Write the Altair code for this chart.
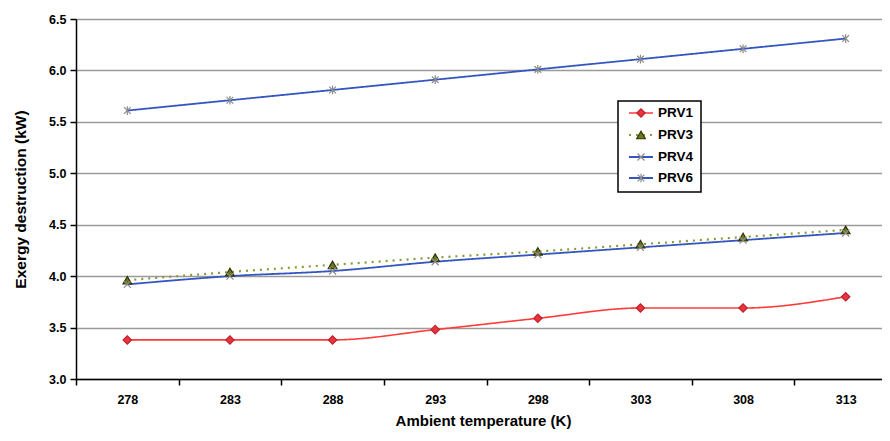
import altair as alt
import pandas as pd

# ---- data ----
temps = [278, 283, 288, 293, 298, 303, 308, 313]
prv1 = [3.38, 3.38, 3.38, 3.48, 3.59, 3.69, 3.69, 3.80]
prv3 = [3.96, 4.04, 4.11, 4.18, 4.24, 4.31, 4.38, 4.45]
prv4 = [3.92, 4.00, 4.05, 4.14, 4.21, 4.28, 4.35, 4.42]
prv6 = [5.61, 5.71, 5.81, 5.91, 6.01, 6.11, 6.21, 6.31]
series_names = ["PRV1", "PRV3", "PRV4", "PRV6"]
y_ticks = [3.0, 3.5, 4.0, 4.5, 5.0, 5.5, 6.0, 6.5]

rows = []
for name, vals in zip(series_names, [prv1, prv3, prv4, prv6]):
    for t, v in zip(temps, vals):
        rows.append({"temp": t, "value": v, "series": name})
df = pd.DataFrame(rows)
legend_df = pd.DataFrame({"series": series_names})

FONT = "Liberation Sans"
XMARK = "M-1,-1L1,1M-1,1L1,-1"
STAR = "M-1,-1L1,1M-1,1L1,-1M0,-1.3L0,1.3"

styles = {
    "PRV1": dict(line="#ff3b3b", dash=[1, 0], width=1.6, shape="diamond",
                 fill="#e8343c", stroke="#c0202a", size=70, filled=True),
    "PRV3": dict(line="#8a9a35", dash=[2, 5], width=2.2, shape="triangle-up",
                 fill="#6b7a22", stroke="#333300", size=75, filled=True),
    "PRV4": dict(line="#3556c0", dash=[1, 0], width=1.8, shape=XMARK,
                 fill="none", stroke="#8a8a8a", size=50, filled=False),
    "PRV6": dict(line="#3556c0", dash=[1, 0], width=1.8, shape=STAR,
                 fill="none", stroke="#8a8a8a", size=45, filled=False),
}

x_enc = alt.X(
    "temp:O",
    scale=alt.Scale(type="band", paddingInner=0, paddingOuter=0),
    axis=alt.Axis(
        title="Ambient temperature (K)", labelAngle=0, grid=False,
        tickBand="extent", tickSize=6, tickColor="black", tickWidth=1.5,
        domainColor="black", domainWidth=1.5,
        labelFont=FONT, labelFontSize=12.5, labelFontWeight="bold",
        labelColor="black", labelPadding=8,
        titleFont=FONT, titleFontSize=15, titleFontWeight="bold",
        titleColor="black", titlePadding=8, titleX=407,
    ),
)
y_enc = alt.Y(
    "value:Q",
    scale=alt.Scale(domain=[3.0, 6.5], nice=False, zero=False),
    axis=alt.Axis(
        title="Exergy destruction (kW)", values=y_ticks, format=".1f",
        grid=True, gridColor="#9a9a9a", gridWidth=1.5,
        tickSize=6, tickColor="black", tickWidth=1.5,
        domainColor="black", domainWidth=1.5,
        labelFont=FONT, labelFontSize=12.5, labelFontWeight="bold",
        labelColor="black", labelPadding=4,
        titleFont=FONT, titleFontSize=15.5, titleFontWeight="bold",
        titleColor="black", titlePadding=20,
    ),
)

layers = []
for name in series_names:
    st = styles[name]
    base = alt.Chart(df).transform_filter(alt.datum.series == name)
    layers.append(
        base.mark_line(color=st["line"], strokeDash=st["dash"],
                       strokeWidth=st["width"], interpolate="monotone")
        .encode(x=x_enc, y=y_enc)
    )
for name in series_names:
    st = styles[name]
    base = alt.Chart(df).transform_filter(alt.datum.series == name)
    layers.append(
        base.mark_point(shape=st["shape"], filled=st["filled"],
                        fill=st["fill"], stroke=st["stroke"],
                        strokeWidth=1.2, size=st["size"], opacity=1)
        .encode(x=x_enc, y=y_enc)
    )

# ---- legend box (Excel style) ----
legend_box = alt.Chart(legend_df).transform_filter(
    alt.datum.series == "PRV1"
).mark_rect(fill="white", stroke="black", strokeWidth=1.5).encode(
    x=alt.value(542), x2=alt.value(625), y=alt.value(82), y2=alt.value(173)
)
layers.append(legend_box)
legend_y = [94, 116, 138, 159]
for name, ly in zip(series_names, legend_y):
    st = styles[name]
    lb = alt.Chart(legend_df).transform_filter(alt.datum.series == name)
    layers.append(
        lb.mark_rule(color=st["line"], strokeDash=st["dash"],
                     strokeWidth=st["width"])
        .encode(x=alt.value(553), x2=alt.value(577), y=alt.value(ly))
    )
    layers.append(
        lb.mark_point(shape=st["shape"], filled=st["filled"],
                      fill=st["fill"], stroke=st["stroke"], strokeWidth=1.2,
                      size=st["size"], opacity=1)
        .encode(x=alt.value(565), y=alt.value(ly))
    )
    layers.append(
        lb.mark_text(align="left", baseline="middle", font=FONT,
                     fontSize=13.5, fontWeight="bold", color="black")
        .encode(x=alt.value(582), y=alt.value(ly), text="series:N")
    )

chart = alt.layer(*layers).properties(
    width=821,
    height=360,
    autosize=alt.AutoSizeParams(type="none"),
    padding={"left": 68, "top": 11, "right": -15, "bottom": 52},
    background="white",
).configure_view(strokeWidth=0)

chart.save("out.html", embed_options={"renderer": "svg", "actions": False})
